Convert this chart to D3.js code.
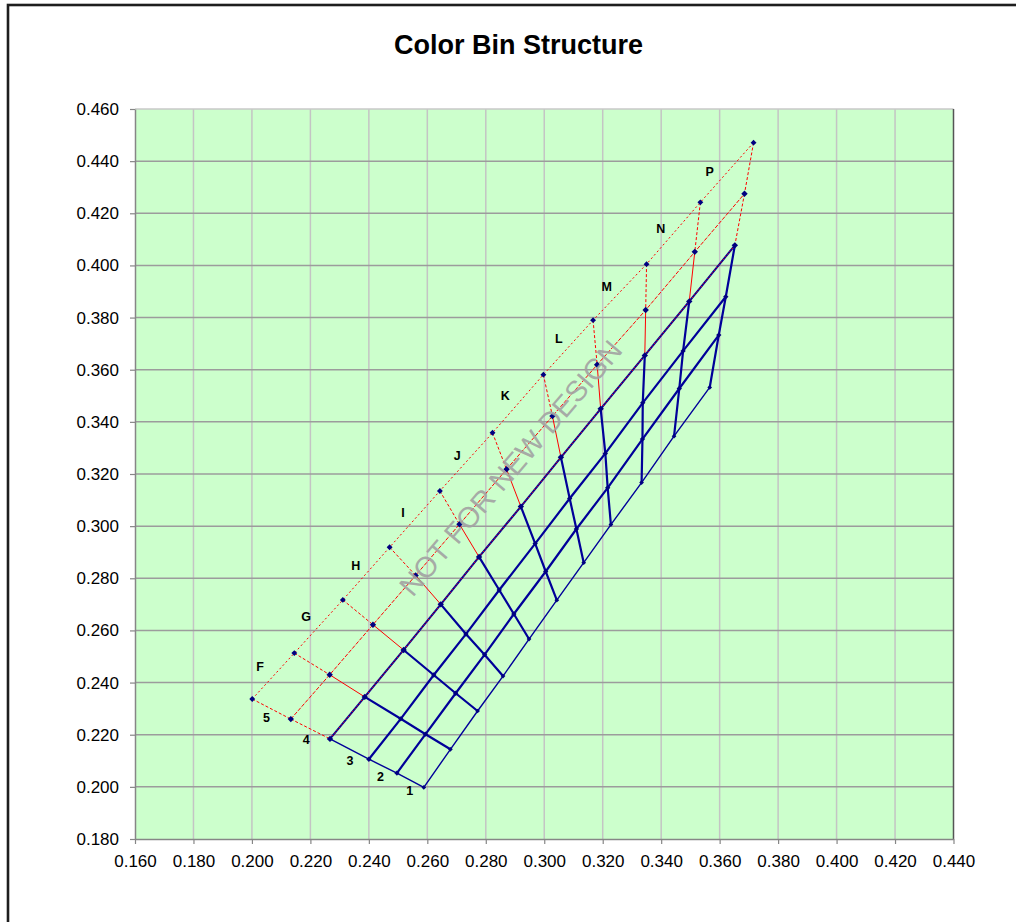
<!DOCTYPE html>
<html>
<head>
<meta charset="utf-8">
<title>Color Bin Structure</title>
<script src="https://cdn.jsdelivr.net/npm/d3@7/dist/d3.min.js"></script>
<style>
  html, body { margin: 0; padding: 0; background: #ffffff; }
  svg { display: block; }
</style>
</head>
<body>
<svg id="chart" width="1016" height="922"></svg>
<script>
// ---- axis ticks ----
const xTickValues = [0.16, 0.18, 0.20, 0.22, 0.24, 0.26, 0.28, 0.30, 0.32, 0.34, 0.36, 0.38, 0.40, 0.42, 0.44];
const yTickValues = [0.18, 0.20, 0.22, 0.24, 0.26, 0.28, 0.30, 0.32, 0.34, 0.36, 0.38, 0.40, 0.42, 0.44, 0.46];

// ---- bin boundary rows (x, y), listed from column edge F-start to P-end ----
// outer edge of the extended (red) region
const rowOuter = [[0.2001, 0.2337], [0.2145, 0.2513], [0.2311, 0.2717], [0.2471, 0.2919], [0.2643, 0.3135],
                  [0.2823, 0.3358], [0.2997, 0.3581], [0.3167, 0.3790], [0.3350, 0.4005], [0.3534, 0.4242], [0.3716, 0.4471]];
// middle boundary of the extended region
const rowMid = [[0.2133, 0.2260], [0.2266, 0.2430], [0.2414, 0.2622], [0.2560, 0.2811], [0.2710, 0.3007],
                [0.2871, 0.3218], [0.3028, 0.3422], [0.3181, 0.3619], [0.3347, 0.3829], [0.3515, 0.4052], [0.3685, 0.4275]];
// boundaries of the main bin grid
const rowA = [[0.2267, 0.2184], [0.2386, 0.2345], [0.2519, 0.2525], [0.2646, 0.2700], [0.2777, 0.2882],
              [0.2920, 0.3075], [0.3057, 0.3264], [0.3193, 0.3450], [0.3344, 0.3655], [0.3496, 0.3862], [0.3652, 0.4077]];
const rowB = [[0.2400, 0.2106], [0.2509, 0.2261], [0.2622, 0.2429], [0.2732, 0.2586], [0.2846, 0.2755],
              [0.2969, 0.2933], [0.3087, 0.3106], [0.3209, 0.3279], [0.3337, 0.3473], [0.3475, 0.3672], [0.3621, 0.3880]];
const rowC = [[0.2496, 0.2053], [0.2594, 0.2202], [0.2697, 0.2359], [0.2796, 0.2507], [0.2896, 0.2663],
              [0.3005, 0.2826], [0.3110, 0.2989], [0.3217, 0.3147], [0.3336, 0.3334], [0.3462, 0.3528], [0.3597, 0.3733]];
const rowD = [[0.2588, 0.1998], [0.2679, 0.2144], [0.2772, 0.2291], [0.2859, 0.2425], [0.2948, 0.2567],
              [0.3043, 0.2716], [0.3135, 0.2860], [0.3228, 0.3006], [0.3333, 0.3167], [0.3444, 0.3345], [0.3566, 0.3532]];

// ---- bin labels ----
const columnNames = ["F", "G", "H", "I", "J", "K", "L", "M", "N", "P"];
const columnLabelAt = [[0.2028, 0.2461], [0.2185, 0.2653], [0.2355, 0.2847], [0.2517, 0.3052], [0.2702, 0.3269],
                       [0.2867, 0.3499], [0.3050, 0.3719], [0.3214, 0.3916], [0.3399, 0.4141], [0.3566, 0.4357]];
const rowNames = ["1", "2", "3", "4", "5"];
const rowLabelAt = [[0.2540, 0.1984], [0.2440, 0.2037], [0.2335, 0.2098], [0.2186, 0.2180], [0.2050, 0.2265]];

const watermarkText = "NOT FOR NEW DESIGN";
const watermarkAt = [0.2885, 0.3223];

// ---- layout ----
const W = 1016, H = 922;
const plot = { left: 135, right: 953.5, top: 109, bottom: 839 };

const svg = d3.select("#chart");
const x = d3.scaleLinear().domain([0.16, 0.44]).range([plot.left, plot.right]);
const y = d3.scaleLinear().domain([0.18, 0.46]).range([plot.bottom, plot.top]);

const FONT = "'Liberation Sans', Arial, Helvetica, sans-serif";
const NAVY = "#000099";
const RED = "#ff0000";

// chart frame
svg.append("rect")
  .attr("x", 8).attr("y", 5).attr("width", W + 20).attr("height", H + 20)
  .attr("fill", "#ffffff").attr("stroke", "#1e1e1e").attr("stroke-width", 2.6);

// title
svg.append("text")
  .attr("x", 518.5).attr("y", 54)
  .attr("text-anchor", "middle")
  .attr("font-family", FONT).attr("font-weight", "bold").attr("font-size", 27)
  .attr("fill", "#000")
  .text("Color Bin Structure");

// plot background
svg.append("rect")
  .attr("x", plot.left).attr("y", plot.top)
  .attr("width", plot.right - plot.left).attr("height", plot.bottom - plot.top)
  .attr("fill", "#ccffcc");

// gridlines
const grid = svg.append("g");
grid.selectAll("line.v").data(xTickValues.slice(1, -1)).join("line")
  .attr("class", "v")
  .attr("x1", d => x(d)).attr("x2", d => x(d))
  .attr("y1", plot.top).attr("y2", plot.bottom)
  .attr("stroke", "#c4c4c4").attr("stroke-width", 1.5);
grid.selectAll("line.h").data(yTickValues.slice(1, -1)).join("line")
  .attr("class", "h")
  .attr("x1", plot.left).attr("x2", plot.right)
  .attr("y1", d => y(d)).attr("y2", d => y(d))
  .attr("stroke", "#9c9c9c").attr("stroke-width", 1.5);

// plot border (top light, right dark)
svg.append("line").attr("x1", plot.left).attr("x2", plot.right).attr("y1", plot.top).attr("y2", plot.top)
  .attr("stroke", "#c8c8c8").attr("stroke-width", 1.5);
svg.append("line").attr("x1", plot.right).attr("x2", plot.right).attr("y1", plot.top).attr("y2", plot.bottom)
  .attr("stroke", "#555").attr("stroke-width", 1.5);

// axes
const fmt = d3.format(".3f");
const xAxis = svg.append("g")
  .attr("transform", `translate(0,${plot.bottom})`)
  .call(d3.axisBottom(x).tickValues(xTickValues).tickFormat(fmt).tickSizeInner(5).tickSizeOuter(0).tickPadding(11));
const yAxis = svg.append("g")
  .attr("transform", `translate(${plot.left},0)`)
  .call(d3.axisLeft(y).tickValues(yTickValues).tickFormat(fmt).tickSizeInner(5).tickSizeOuter(0).tickPadding(11));
[xAxis, yAxis].forEach(g => {
  g.select(".domain").attr("stroke", "#868686").attr("stroke-width", 1.5);
  g.selectAll(".tick line").attr("stroke", "#868686").attr("stroke-width", 1.2);
  g.selectAll(".tick text").attr("font-family", FONT).attr("font-size", 17).attr("fill", "#000");
});

// ---- bin structure ----
const line = d3.line().x(d => x(d[0])).y(d => y(d[1]));
const marks = svg.append("g");

function drawPath(points, stroke, width, dash) {
  const p = marks.append("path")
    .attr("d", line(points))
    .attr("fill", "none")
    .attr("stroke", stroke)
    .attr("stroke-width", width)
    .attr("stroke-linejoin", "round");
  if (dash) p.attr("stroke-dasharray", dash);
  return p;
}

// extended (red) region: column segments
rowOuter.forEach((_, i) => {
  const edge = i === 0 || i === rowOuter.length - 1;
  drawPath([rowOuter[i], rowMid[i]], RED, 1, "3,2");
  drawPath([rowMid[i], rowA[i]], RED, 1, edge ? "3,2" : null);
});
// extended region: rows
drawPath(rowOuter, RED, 1, "2,2.5");
drawPath(rowMid, RED, 1, "4,1.5");

// main bin grid: rows
drawPath(rowA, NAVY, 2);
drawPath(rowB, NAVY, 2.2);
drawPath(rowC, NAVY, 2.2);
drawPath(rowD, NAVY, 1.4);
// main bin grid: columns
rowA.forEach((_, i) => {
  drawPath([rowA[i], rowB[i], rowC[i], rowD[i]], NAVY, i === 0 ? 1.4 : 2.2);
});
// red boundary drawn over the top grid row
drawPath(rowA, RED, 1, "1.5,2");

// vertex markers
const diamond = d3.symbol().type(d3.symbolDiamond2);
const markerSets = [
  { pts: rowOuter, size: 22 },
  { pts: rowMid, size: 26 },
  { pts: rowA, size: 26 },
  { pts: rowB, size: 18 },
  { pts: rowC, size: 18 },
  { pts: rowD, size: 14 }
];
markerSets.forEach(s => {
  marks.append("g").selectAll("path").data(s.pts).join("path")
    .attr("transform", d => `translate(${x(d[0])},${y(d[1])})`)
    .attr("d", diamond.size(s.size)())
    .attr("fill", "#000080");
});

// bin labels
const labels = svg.append("g")
  .attr("font-family", FONT).attr("font-weight", "bold").attr("font-size", 12.5)
  .attr("text-anchor", "middle").attr("dominant-baseline", "central").attr("fill", "#000");
labels.selectAll("text.col").data(columnNames).join("text")
  .attr("class", "col")
  .attr("x", (d, i) => x(columnLabelAt[i][0]))
  .attr("y", (d, i) => y(columnLabelAt[i][1]))
  .text(d => d);
labels.selectAll("text.row").data(rowNames).join("text")
  .attr("class", "row")
  .attr("x", (d, i) => x(rowLabelAt[i][0]))
  .attr("y", (d, i) => y(rowLabelAt[i][1]))
  .text(d => d);

// watermark
svg.append("text")
  .attr("transform", `translate(${x(watermarkAt[0])},${y(watermarkAt[1])}) rotate(-49.5)`)
  .attr("text-anchor", "middle").attr("dominant-baseline", "central")
  .attr("font-family", FONT).attr("font-size", 29)
  .attr("fill", "#a3a3a3").attr("fill-opacity", 0.92)
  .text(watermarkText);
</script>
</body>
</html>
